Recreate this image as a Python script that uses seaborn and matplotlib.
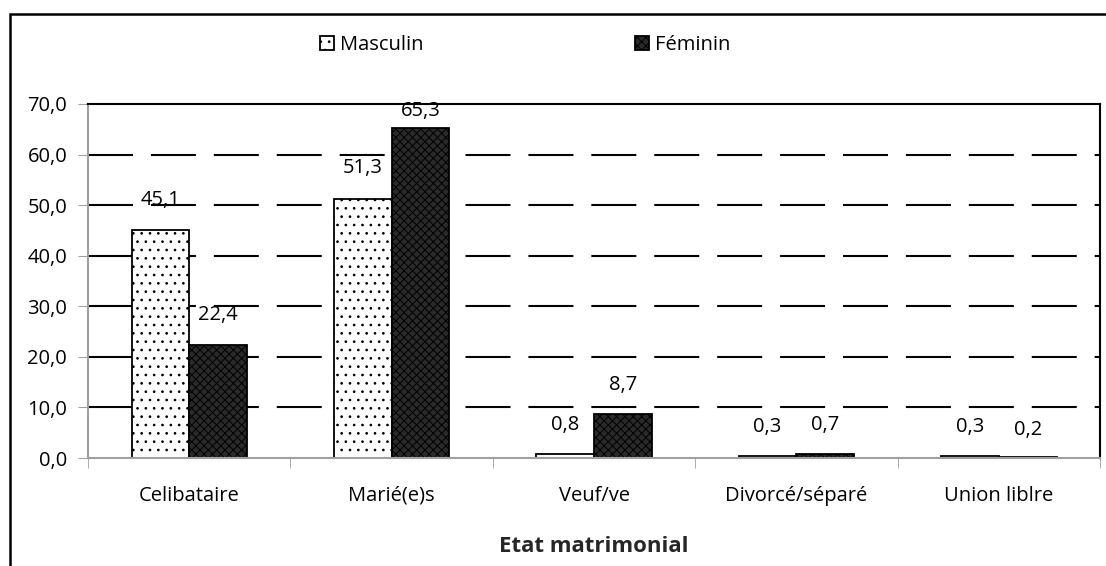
import pandas as pd
import matplotlib.pyplot as plt
import seaborn as sns
from matplotlib.patches import Rectangle
from matplotlib.ticker import FuncFormatter, FixedLocator

# Data
categories = ["Celibataire", "Marié(e)s", "Veuf/ve", "Divorcé/séparé", "Union liblre"]
masculin = [45.1, 51.3, 0.8, 0.3, 0.3]
feminin = [22.4, 65.3, 8.7, 0.7, 0.2]
sexes = ["Masculin", "Féminin"]

# label offsets above bar tops (points); 65,3 is pulled down to stay inside the frame
label_pads = [[14, 15, 14, 14, 14], [14, 5, 14, 14, 12]]

df = pd.DataFrame({
    "etat": categories * 2,
    "sexe": [sexes[0]] * len(categories) + [sexes[1]] * len(categories),
    "pct": masculin + feminin,
})

sns.set_style("white")
plt.rcParams["font.family"] = ["Open Sans", "DejaVu Sans"]
plt.rcParams["text.color"] = "black"
plt.rcParams["xtick.color"] = "black"
plt.rcParams["ytick.color"] = "black"
plt.rcParams["hatch.linewidth"] = 0.7

fig = plt.figure(figsize=(11.06, 5.66), dpi=100)
ax = fig.add_axes([0.0796, 0.1908, 0.915, 0.6255])

sns.barplot(data=df, x="etat", y="pct", hue="sexe", order=categories,
            hue_order=sexes, width=0.57, gap=0, ax=ax, legend=False,
            edgecolor="black", linewidth=1.3, errorbar=None)

styles = [("white", ".."), ("#2a2a2a", "xxxx")]
for cont, (fc, hatch), pads in zip(ax.containers, styles, label_pads):
    for bar in cont:
        bar.set_facecolor(fc)
        bar.set_hatch(hatch)
        bar.set_edgecolor("black")
    for bar, val, pad in zip(cont, cont.datavalues, pads):
        ax.annotate(f"{val:.1f}".replace(".", ","),
                    (bar.get_x() + bar.get_width() / 2, bar.get_height()),
                    xytext=(0, pad), textcoords="offset points",
                    ha="center", va="bottom", fontsize=14.5, color="black")

ax.set_ylim(0, 70)
ax.set_xlim(-0.5, len(categories) - 0.5)
ax.set_yticks(range(0, 71, 10))
ax.yaxis.set_major_formatter(FuncFormatter(lambda v, p: f"{v:.1f}".replace(".", ",")))
ax.tick_params(axis="y", labelsize=14.5, length=7, color="#a0a0a0", left=True, pad=8)
ax.tick_params(axis="x", which="major", labelsize=14.5, length=0, pad=20)
ax.xaxis.set_minor_locator(FixedLocator([i - 0.5 for i in range(len(categories) + 1)]))
ax.tick_params(axis="x", which="minor", length=7, color="#a0a0a0", bottom=True)

for y in range(10, 70, 10):
    ax.axhline(y, color="black", lw=1.5, dashes=(21.6, 8.6), zorder=0)

for side in ["left", "bottom"]:
    ax.spines[side].set_color("#a0a0a0")
    ax.spines[side].set_linewidth(1.5)
for side in ["top", "right"]:
    ax.spines[side].set_color("black")
    ax.spines[side].set_linewidth(1.5)

ax.set_ylabel("")
ax.set_xlabel("Etat matrimonial", fontsize=16, fontweight="bold", labelpad=22)

fig.legend(handles=list(ax.containers), labels=sexes, loc="center",
           bbox_to_anchor=(0.475, 0.92), ncol=2, frameon=False, fontsize=14.5,
           handlelength=0.7, handleheight=0.7, handletextpad=0.3,
           columnspacing=10.5)

# outer frame of the chart block
fig.patches.append(Rectangle((10 / 1106, -0.05), 1.1, 1.05 - 14 / 566,
                             transform=fig.transFigure, fill=False,
                             edgecolor="black", lw=1.8))

fig.savefig("out.png", dpi=100)
